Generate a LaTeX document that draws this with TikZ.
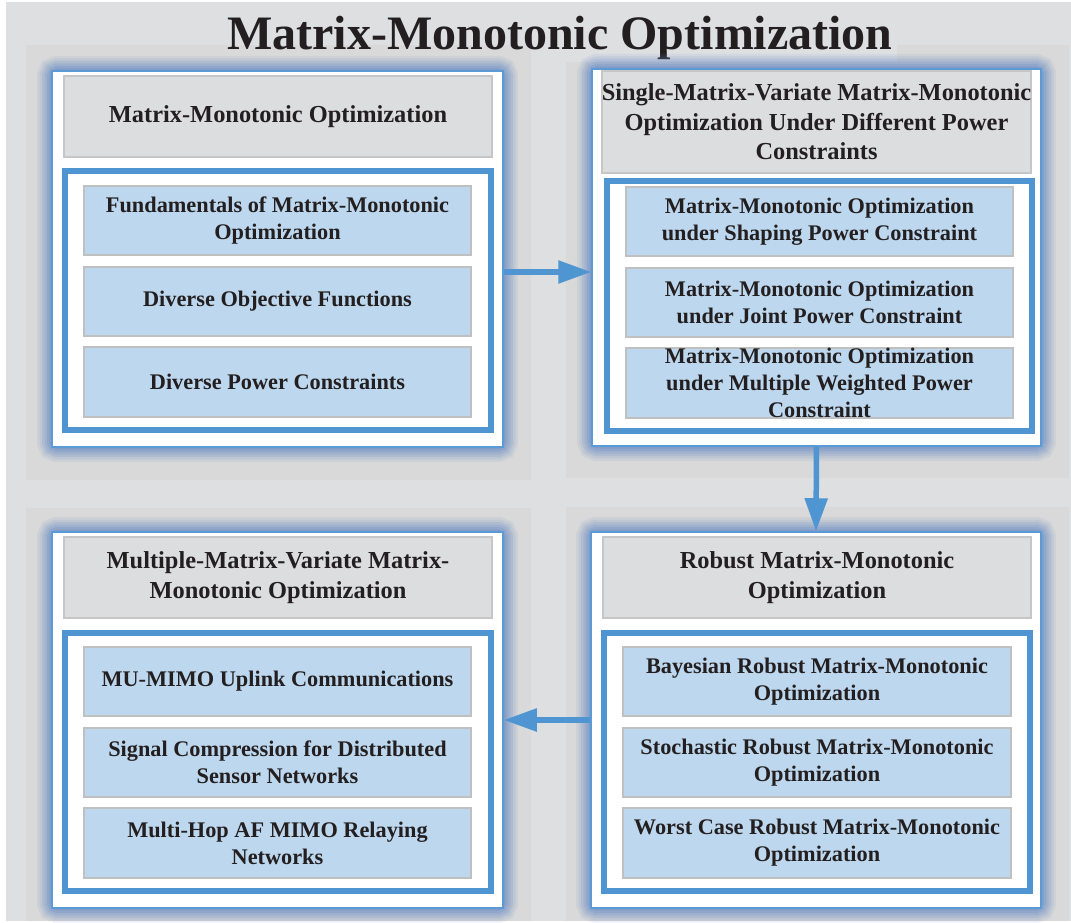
\documentclass[tikz,border=0pt]{standalone}
\usepackage{fontspec}
\setmainfont{Liberation Serif}
\usetikzlibrary{arrows.meta}
\definecolor{bgc}{HTML}{DEDFE1}
\definecolor{panelc}{HTML}{D9D9D9}
\definecolor{bluec}{HTML}{4F95D1}
\definecolor{thinblue}{HTML}{5B9BD5}
\definecolor{glowc}{HTML}{6A8CC4}
\definecolor{hdrc}{HTML}{DCDDDF}
\definecolor{hdrborder}{HTML}{C6C6C6}
\definecolor{itemc}{HTML}{BDD7EE}
\definecolor{itemborder}{HTML}{C0C0C0}
\definecolor{txtc}{HTML}{231F20}
\tikzset{
 outerbox/.style={draw=thinblue, line width=1.5pt, fill=white, inner sep=0pt},
 hdrbox/.style={draw=hdrborder, line width=1.5pt, fill=hdrc, inner sep=0pt, align=center, text=txtc, font=\fontsize{24.4}{29.5}\selectfont\bfseries},
 innerbox/.style={draw=bluec, line width=6pt, fill=white, inner sep=0pt},
 itembox/.style={draw=itemborder, line width=1.5pt, fill=itemc, inner sep=0pt, align=center, text=txtc, font=\fontsize{22.3}{27}\selectfont\bfseries},
 conn/.style={draw=bluec, line width=5.5pt, -{Triangle[length=33pt,width=22pt]}},
 titletext/.style={text=txtc, font=\fontsize{48}{48}\selectfont\bfseries, inner sep=0pt, anchor=base},
}
\newcommand\rn[7]{%
 \pgfmathsetmacro\rnx{(#3+#5)/2}%
 \pgfmathsetmacro\rny{(#4+#6)/2}%
 \pgfmathsetmacro\rnw{#5-#3}%
 \pgfmathsetmacro\rnh{#6-#4}%
 \node[#1, minimum width=\rnw pt, minimum height=\rnh pt] (#2) at (\rnx,\rny) {#7};}
\newcommand\glow[4]{%
 \foreach \w/\o in {30/0.10, 25/0.14, 20/0.18, 15/0.22, 10/0.28, 5/0.35}{%
  \draw[glowc, line width=\w pt, opacity=\o, rounded corners=5pt] (#1,#2) rectangle (#3,#4);}}
\begin{document}
\begin{tikzpicture}[x=1pt, y=-1pt]
\useasboundingbox (0,0) rectangle (1071,923);
\fill[white] (0,0) rectangle (1071,923);
\fill[bgc] (6,2) rectangle (1071,921);
% panels
\fill[panelc] (26,45) rectangle (531,480);
\fill[panelc] (566,45) rectangle (1069,478);
\fill[panelc] (26,508) rectangle (531,921);
\fill[panelc] (566,507) rectangle (1069,921);
% title
\fill[bgc] (531,2) rectangle (897,62);
\node[titletext] (title) at (560,50) {Matrix-Monotonic Optimization};
% ---- top left
\glow{52}{71}{503}{447}
\rn{outerbox}{tlw}{52}{71}{503}{447}{}
\rn{hdrbox}{tlh}{64}{76}{492}{157}{Matrix-Monotonic Optimization}
\rn{innerbox}{tlb}{65}{171}{491}{430}{}
\rn{itembox}{tl1}{84}{186}{471}{255}{Fundamentals of Matrix-Monotonic\\Optimization}
\rn{itembox}{tl2}{84}{267}{471}{336}{Diverse Objective Functions}
\rn{itembox}{tl3}{84}{347}{471}{417}{Diverse Power Constraints}
% ---- top right
\glow{592}{69}{1041}{446}
\rn{outerbox}{trw}{592}{69}{1041}{446}{}
\rn{hdrbox}{trh}{603}{71}{1030}{173}{Single-Matrix-Variate Matrix-Monotonic\\Optimization Under Different Power\\Constraints}
\rn{innerbox}{trb}{607}{181}{1032}{431}{}
\rn{itembox}{tr1}{626}{187}{1013}{256}{Matrix-Monotonic Optimization\\under Shaping Power Constraint}
\rn{itembox}{tr2}{626}{268}{1013}{337}{Matrix-Monotonic Optimization\\under Joint Power Constraint}
\rn{itembox}{tr3}{626}{348}{1013}{418}{Matrix-Monotonic Optimization\\under Multiple Weighted Power\\Constraint}
% ---- bottom left
\glow{52}{532}{503}{908}
\rn{outerbox}{blw}{52}{532}{503}{908}{}
\rn{hdrbox}{blh}{64}{537}{492}{618}{Multiple-Matrix-Variate Matrix-\\Monotonic Optimization}
\rn{innerbox}{blb}{65}{633}{491}{891}{}
\rn{itembox}{bl1}{84}{647}{471}{716}{MU-MIMO Uplink Communications}
\rn{itembox}{bl2}{84}{728}{471}{797}{Signal Compression for Distributed\\Sensor Networks}
\rn{itembox}{bl3}{84}{808}{471}{878}{Multi-Hop AF MIMO Relaying\\Networks}
% ---- bottom right
\glow{591}{532}{1041}{908}
\rn{outerbox}{brw}{591}{532}{1041}{908}{}
\rn{hdrbox}{brh}{603}{537}{1031}{618}{Robust Matrix-Monotonic\\Optimization}
\rn{innerbox}{brb}{604}{633}{1030}{891}{}
\rn{itembox}{br1}{623}{647}{1011}{716}{Bayesian Robust Matrix-Monotonic\\Optimization}
\rn{itembox}{br2}{623}{728}{1011}{797}{Stochastic Robust Matrix-Monotonic\\Optimization}
\rn{itembox}{br3}{623}{808}{1011}{878}{Worst Case Robust Matrix-Monotonic\\Optimization}
% ---- connectors
\coordinate (r1) at (0,272);
\coordinate (r3) at (0,720);
\draw[conn] (tlw.east |- r1) -- (trw.west |- r1);
\draw[conn] (trw.south) -- (brw.north);
\draw[conn] (brw.west |- r3) -- (blw.east |- r3);
\end{tikzpicture}
\end{document}
